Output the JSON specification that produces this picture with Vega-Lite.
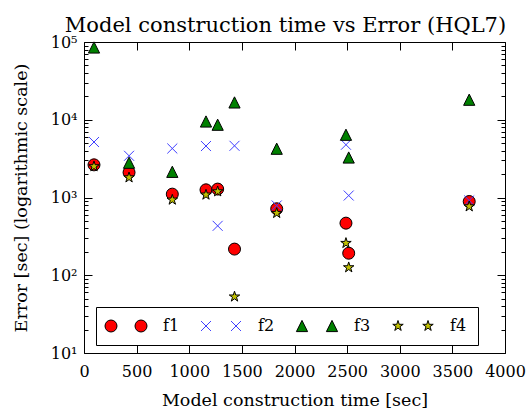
{
  "$schema": "https://vega.github.io/schema/vega-lite/v6.json",
  "width": 421,
  "height": 311,
  "autosize": {"type": "none"},
  "padding": {"left": 84, "top": 42, "right": 21, "bottom": 56},
  "background": "white",
  "title": {"text": "Model construction time vs Error (HQL7)", "font": "DejaVu Serif", "fontSize": 21, "fontWeight": "normal", "color": "black", "offset": -2, "dx": -9},
  "config": {
    "font": "DejaVu Serif",
    "view": {"stroke": "black", "strokeWidth": 1},
    "axis": {"domain": false, "grid": false, "zindex": 1, "labelFont": "DejaVu Serif", "labelFontSize": 16, "labelColor": "black", "tickColor": "black", "tickWidth": 1, "titleFont": "DejaVu Serif", "titleFontSize": 17.5, "titleFontWeight": "normal", "titleColor": "black"}
  },
  "data": {"values": [
    {"t": 95, "err": 2630, "s": "f1"}, {"t": 428, "err": 2100, "s": "f1"}, {"t": 839, "err": 1105, "s": "f1"}, {"t": 1159, "err": 1255, "s": "f1"}, {"t": 1270, "err": 1283, "s": "f1"},
    {"t": 1430, "err": 217, "s": "f1"}, {"t": 1831, "err": 716, "s": "f1"}, {"t": 2489, "err": 468, "s": "f1"}, {"t": 2515, "err": 192, "s": "f1"}, {"t": 3660, "err": 888, "s": "f1"},
    {"t": 95, "err": 5170, "s": "f2"}, {"t": 428, "err": 3440, "s": "f2"}, {"t": 839, "err": 4270, "s": "f2"}, {"t": 1159, "err": 4590, "s": "f2"}, {"t": 1270, "err": 432, "s": "f2"},
    {"t": 1430, "err": 4620, "s": "f2"}, {"t": 1831, "err": 789, "s": "f2"}, {"t": 2489, "err": 4770, "s": "f2"}, {"t": 2515, "err": 1060, "s": "f2"}, {"t": 3660, "err": 915, "s": "f2"},
    {"t": 95, "err": 85000, "s": "f3"}, {"t": 428, "err": 2800, "s": "f3"}, {"t": 839, "err": 2140, "s": "f3"}, {"t": 1159, "err": 9500, "s": "f3"}, {"t": 1270, "err": 8630, "s": "f3"},
    {"t": 1430, "err": 16700, "s": "f3"}, {"t": 1831, "err": 4240, "s": "f3"}, {"t": 2489, "err": 6410, "s": "f3"}, {"t": 2515, "err": 3270, "s": "f3"}, {"t": 3660, "err": 18100, "s": "f3"},
    {"t": 95, "err": 2510, "s": "f4"}, {"t": 428, "err": 1808, "s": "f4"}, {"t": 839, "err": 934, "s": "f4"}, {"t": 1159, "err": 1084, "s": "f4"}, {"t": 1270, "err": 1195, "s": "f4"},
    {"t": 1430, "err": 53, "s": "f4"}, {"t": 1831, "err": 630, "s": "f4"}, {"t": 2489, "err": 259, "s": "f4"}, {"t": 2515, "err": 126, "s": "f4"}, {"t": 3660, "err": 766, "s": "f4"}
  ]},
  "layer": [
    {
      "mark": {"type": "point", "opacity": 0},
      "encoding": {
        "x": {"field": "t", "type": "quantitative", "scale": {"domain": [0, 4000], "nice": false, "zero": false},
          "axis": {"orient": "bottom", "title": "Model construction time [sec]", "format": "d", "values": [0, 500, 1000, 1500, 2000, 2500, 3000, 3500, 4000], "offset": -8, "tickSize": 8, "labelPadding": 10, "titlePadding": 12, "labelFlush": false}},
        "y": {"field": "err", "type": "quantitative", "scale": {"type": "log", "domain": [10, 100000], "nice": false},
          "axis": {"orient": "left", "title": "Error [sec] (logarithmic scale)", "titlePadding": 20,
            "values": [10, 100, 1000, 10000, 100000], "offset": -8, "tickSize": 8, "labelPadding": 7,
            "labelExpr": "datum.value == 10 ? '10¹' : datum.value == 100 ? '10²' : datum.value == 1000 ? '10³' : datum.value == 10000 ? '10⁴' : '10⁵'"}}
      }
    },
    {
      "mark": {"type": "point", "opacity": 0},
      "encoding": {
        "x": {"field": "t", "type": "quantitative",
          "axis": {"orient": "top", "title": null, "labels": false, "values": [0, 500, 1000, 1500, 2000, 2500, 3000, 3500, 4000], "offset": -8, "tickSize": 8}},
        "y": {"field": "err", "type": "quantitative",
          "axis": {"orient": "right", "title": null, "labels": false, "values": [10, 100, 1000, 10000, 100000], "offset": -8, "tickSize": 8}}
      }
    },
    {
      "mark": {"type": "point", "opacity": 0},
      "encoding": {
        "x": {"field": "t", "type": "quantitative", "axis": null},
        "y": {"field": "err", "type": "quantitative",
          "axis": {"orient": "left", "title": null, "labels": false, "offset": -4, "tickSize": 4,
            "values": [20, 30, 40, 50, 60, 70, 80, 90, 200, 300, 400, 500, 600, 700, 800, 900, 2000, 3000, 4000, 5000, 6000, 7000, 8000, 9000, 20000, 30000, 40000, 50000, 60000, 70000, 80000, 90000]}}
      }
    },
    {
      "mark": {"type": "point", "opacity": 0},
      "encoding": {
        "x": {"field": "t", "type": "quantitative", "axis": null},
        "y": {"field": "err", "type": "quantitative",
          "axis": {"orient": "right", "title": null, "labels": false, "offset": -4, "tickSize": 4,
            "values": [20, 30, 40, 50, 60, 70, 80, 90, 200, 300, 400, 500, 600, 700, 800, 900, 2000, 3000, 4000, 5000, 6000, 7000, 8000, 9000, 20000, 30000, 40000, 50000, 60000, 70000, 80000, 90000]}}
      }
    },
    {
      "mark": {"type": "point", "opacity": 0, "strokeWidth": 1},
      "encoding": {
        "x": {"field": "t", "type": "quantitative", "axis": null},
        "y": {"field": "err", "type": "quantitative", "axis": null},
        "shape": {"field": "s", "type": "nominal",
          "scale": {"domain": ["f1", "f2", "f3", "f4"], "range": [
            "M-3,0A0.857,0.857 0 1,1 -1.286,0A0.857,0.857 0 1,1 -3,0Z M1.286,0A0.857,0.857 0 1,1 3,0A0.857,0.857 0 1,1 1.286,0Z",
            "M-2.857,-0.714L-1.429,0.714M-2.857,0.714L-1.429,-0.714M1.429,-0.714L2.857,0.714M1.429,0.714L2.857,-0.714",
            "M-2.143,-0.8L-1.343,0.8L-2.943,0.8Z M2.143,-0.8L2.943,0.8L1.343,0.8Z",
            "M-2.143,-0.786L-1.966,-0.243L-1.396,-0.243L-1.858,0.093L-1.681,0.636L-2.143,0.3L-2.605,0.636L-2.428,0.093L-2.89,-0.243L-2.32,-0.243Z M2.143,-0.786L2.32,-0.243L2.89,-0.243L2.428,0.093L2.605,0.636L2.143,0.3L1.681,0.636L1.858,0.093L1.396,-0.243L1.966,-0.243Z"
          ]},
          "legend": {"orient": "none", "legendX": 12, "legendY": 265, "direction": "horizontal", "columns": 4, "title": null,
            "padding": 11, "strokeColor": "black", "fillColor": "white", "cornerRadius": 0,
            "symbolSize": 196, "symbolOffset": 11, "labelOffset": 29, "columnPadding": 19, "symbolStrokeWidth": 1, "symbolOpacity": 1,
            "labelFont": "DejaVu Serif", "labelFontSize": 16, "labelColor": "black"}},
        "fill": {"field": "s", "type": "nominal", "scale": {"domain": ["f1", "f2", "f3", "f4"], "range": ["#ff0000", "transparent", "#008000", "#bfbf00"]}},
        "stroke": {"field": "s", "type": "nominal", "scale": {"domain": ["f1", "f2", "f3", "f4"], "range": ["#000000", "#3f3fff", "#000000", "#000000"]}}
      }
    },
    {
      "transform": [{"filter": "datum.s == 'f1'"}],
      "mark": {"type": "point", "shape": "M-0.857,0A0.857,0.857 0 1,1 0.857,0A0.857,0.857 0 1,1 -0.857,0Z", "filled": true, "fill": "#ff0000", "stroke": "#000000", "strokeWidth": 1, "opacity": 1, "size": 196},
      "encoding": {"x": {"field": "t", "type": "quantitative", "axis": null}, "y": {"field": "err", "type": "quantitative", "axis": null}}
    },
    {
      "transform": [{"filter": "datum.s == 'f2'"}],
      "mark": {"type": "point", "shape": "M-0.714,-0.714L0.714,0.714M-0.714,0.714L0.714,-0.714", "filled": false, "fill": "transparent", "stroke": "#3f3fff", "strokeWidth": 1, "opacity": 1, "size": 196},
      "encoding": {"x": {"field": "t", "type": "quantitative", "axis": null}, "y": {"field": "err", "type": "quantitative", "axis": null}}
    },
    {
      "transform": [{"filter": "datum.s == 'f3'"}],
      "mark": {"type": "point", "shape": "M0,-0.8L0.8,0.8L-0.8,0.8Z", "filled": true, "fill": "#008000", "stroke": "#000000", "strokeWidth": 1, "opacity": 1, "size": 196},
      "encoding": {"x": {"field": "t", "type": "quantitative", "axis": null}, "y": {"field": "err", "type": "quantitative", "axis": null}}
    },
    {
      "transform": [{"filter": "datum.s == 'f4'"}],
      "mark": {"type": "point", "shape": "M0,-0.786L0.177,-0.243L0.747,-0.243L0.285,0.093L0.462,0.636L0,0.3L-0.462,0.636L-0.285,0.093L-0.747,-0.243L-0.177,-0.243Z", "filled": true, "fill": "#bfbf00", "stroke": "#000000", "strokeWidth": 1, "opacity": 1, "size": 196},
      "encoding": {"x": {"field": "t", "type": "quantitative", "axis": null}, "y": {"field": "err", "type": "quantitative", "axis": null}}
    }
  ],
  "resolve": {"axis": {"x": "independent", "y": "independent"}}
}
